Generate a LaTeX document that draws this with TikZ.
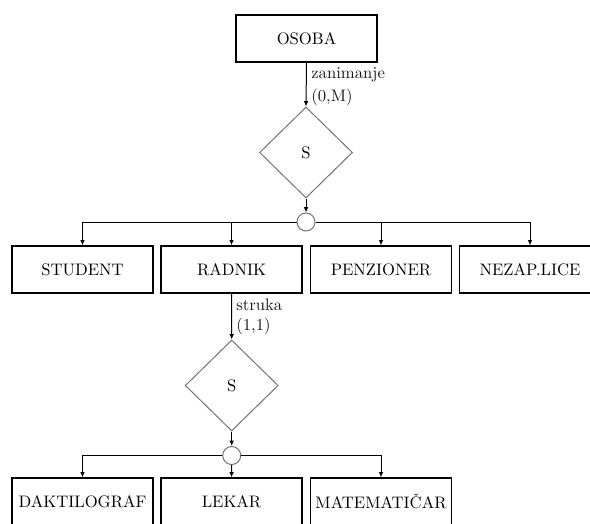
\documentclass[tikz,border=0pt]{standalone}
\usetikzlibrary{arrows.meta,shapes.geometric}
\begin{document}
\begin{tikzpicture}[x=0.6pt,y=-0.6pt,
  font=\fontsize{10}{12}\selectfont,
  entity/.style={draw=black,line width=0.7pt,minimum width=141*0.6pt,minimum height=47*0.6pt,inner sep=0pt},
  gen/.style={diamond,draw=black!55,line width=0.6pt,minimum width=93*0.6pt,minimum height=91*0.6pt,inner sep=0pt},
  junction/.style={circle,draw=black!55,line width=0.6pt,minimum size=18*0.6pt,inner sep=0pt},
  link/.style={draw=black,line width=0.6pt},
  arr/.style={link,-{Latex[length=3.2pt,width=2.8pt]}},
  card/.style={anchor=west,inner sep=0pt,text=black!90}]
  \clip (0,0) rectangle (590,523);
  \useasboundingbox (0,0) rectangle (590,523);

  % top entity and its specialisation
  \node[entity] (osoba) at (306.5,38.5) {OSOBA};
  \node[gen] (s1) at (306,152.5) {S};
  \node[junction] (j1) at (306,222) {};

  \node[entity] (student) at (82.5,269.5) {STUDENT};
  \node[entity] (radnik) at (231.5,269.5) {RADNIK};
  \node[entity] (penz) at (381,269.5) {PENZIONER};
  \node[entity] (nezap) at (530,269.5) {NEZAP.LICE};

  % second level
  \node[gen] (s2) at (231.7,385.5) {S};
  \node[junction] (j2) at (231.7,455.5) {};

  \node[entity] (dakt) at (82.5,501.5) {DAKTILOGRAF};
  \node[entity] (lekar) at (231.5,501.5) {LEKAR};
  \node[entity] (mat) at (381,501.5) {MATEMATIČAR};

  % connectors
  \draw[arr] (osoba.south) -- (s1.north);
  \draw[arr] (s1.south) -- (j1.north);
  \draw[arr] (j1.west) -| (student.north);
  \draw[arr] (j1.west) -| (radnik.north);
  \draw[arr] (j1.east) -| (penz.north);
  \draw[arr] (j1.east) -| (nezap.north);

  \draw[arr] (radnik.south) -- (s2.north);
  \draw[arr] (s2.south) -- (j2.north);
  \draw[arr] (j2.west) -| (dakt.north);
  \draw[arr] (j2.south) -- (lekar.north);
  \draw[arr] (j2.east) -| (mat.north);

  % role names and cardinalities
  \node[card] (r1) at (311,75) {zanimanje};
  \node[card] (c1) at (311,97) {(0,M)};
  \node[card] (r2) at (236,305) {struka};
  \node[card] (c2) at (236,326) {(1,1)};
\end{tikzpicture}
\end{document}
